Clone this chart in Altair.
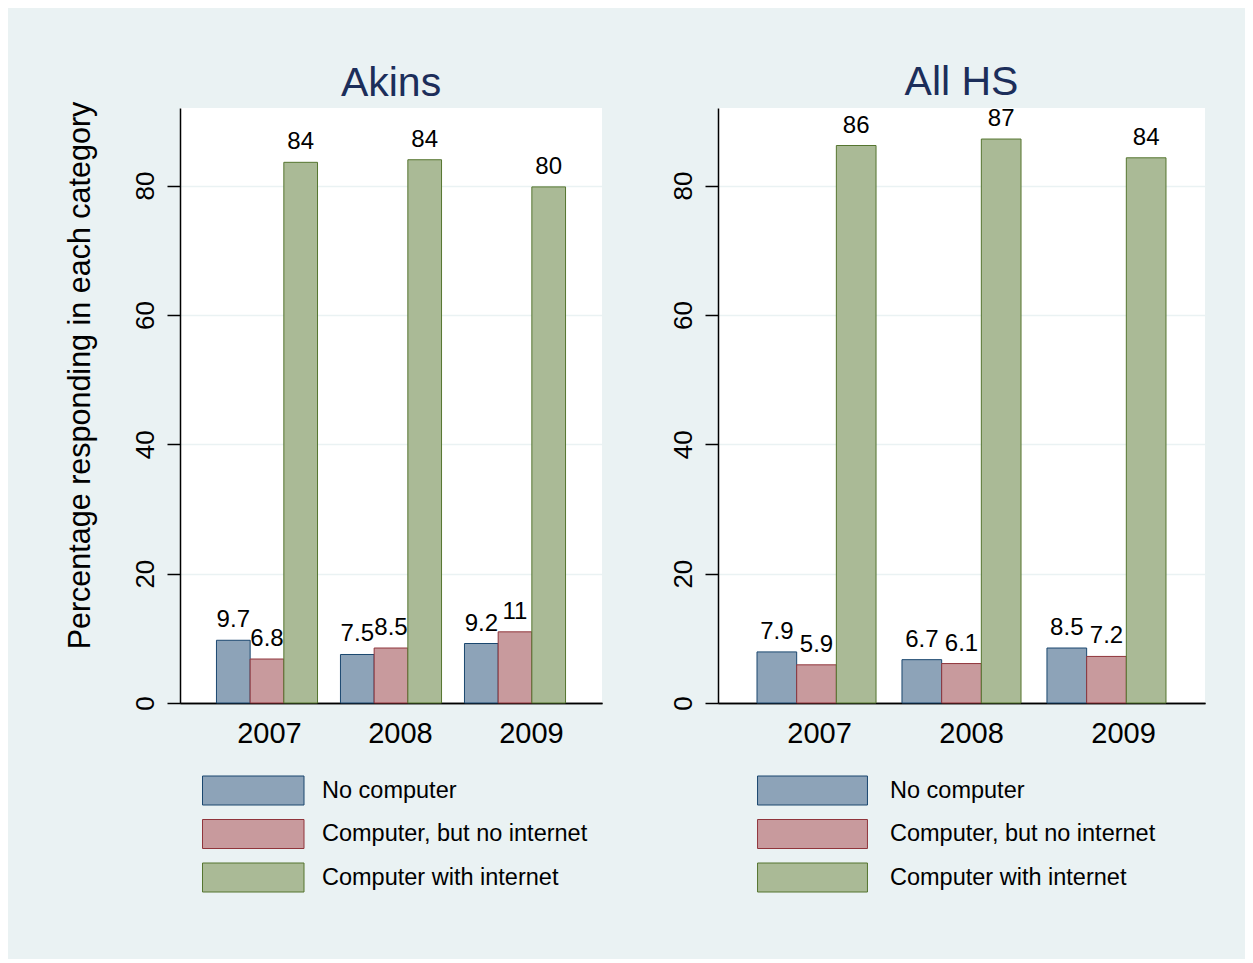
import altair as alt
import pandas as pd

years = ["2007", "2008", "2009"]
series = ["No computer", "Computer, but no internet", "Computer with internet"]

akins_no_computer = [9.7, 7.5, 9.2]
akins_no_internet = [6.8, 8.5, 11.0]
akins_internet = [83.6, 84.0, 79.8]

allhs_no_computer = [7.9, 6.7, 8.5]
allhs_no_internet = [5.9, 6.1, 7.2]
allhs_internet = [86.2, 87.2, 84.3]

y_ticks = [0, 20, 40, 60, 80]
fill_colors = ["#8DA3B8", "#C89A9D", "#AABA96"]
stroke_colors = ["#1A476F", "#90353B", "#55752F"]

FONT = "Liberation Sans"
BG = "#EAF2F3"


def long_table(a, b, c):
    rows = []
    for s, vals in zip(series, [a, b, c]):
        for yr, v in zip(years, vals):
            rows.append({"year": yr, "series": s, "value": v})
    return pd.DataFrame(rows)


def panel(df, title, width, pad_in, pad_out, ytitle, legend_x, symbol_path, label_offset,
          lab_pad, lab_align, title_offset):
    leg = alt.Legend(
        title=None, orient="none", legendX=legend_x, legendY=667.5, direction="vertical",
        symbolType=symbol_path, symbolSize=841, symbolStrokeWidth=1, symbolOpacity=1,
        labelFontSize=23.5, labelFont=FONT, labelColor="black", labelOffset=label_offset,
        rowPadding=9.5, padding=0, labelLimit=0,
    )
    yaxis_kw = dict(
        values=y_ticks, labelAngle=-90, labelAlign="center", labelBaseline="bottom",
        labelFontSize=26, labelFont=FONT, labelColor="black", labelPadding=9,
        tickSize=13, tickColor="black", tickWidth=1.5,
        domainColor="black", domainWidth=1.5,
        grid=True, gridColor=BG, gridWidth=1.5,
        titleFontSize=30.5, titleFont=FONT, titleFontWeight="normal", titleColor="black",
        titlePadding=37, titleY=267,
    )
    yaxis = alt.Axis(title=ytitle, **yaxis_kw) if ytitle else alt.Axis(title=None, **yaxis_kw)
    base = alt.Chart(df).encode(
        x=alt.X("year:N", sort=years,
                scale=alt.Scale(paddingInner=pad_in, paddingOuter=pad_out),
                axis=alt.Axis(title=None, labels=False, ticks=False, domainColor="black",
                              domainWidth=1.5, grid=False, orient="bottom")),
        xOffset=alt.XOffset("series:N", sort=series,
                            scale=alt.Scale(paddingInner=0, paddingOuter=0)),
        y=alt.Y("value:Q", scale=alt.Scale(domain=[0, 92], nice=False, zero=True), axis=yaxis),
    )
    bars = base.mark_bar(strokeWidth=1, opacity=1).encode(
        fill=alt.Fill("series:N", sort=series,
                      scale=alt.Scale(domain=series, range=fill_colors), legend=leg),
        stroke=alt.Stroke("series:N", sort=series,
                          scale=alt.Scale(domain=series, range=stroke_colors), legend=leg),
    )
    labels = base.mark_text(baseline="alphabetic", dy=-13, fontSize=24, font=FONT,
                            color="black").encode(
        text=alt.Text("value:Q", format=".2r")
    )
    year_axis = alt.Chart(pd.DataFrame({"year": years})).mark_point(opacity=0, size=0).encode(
        x=alt.X("year:N", sort=years,
                scale=alt.Scale(type="point", padding=lab_pad, align=lab_align),
                axis=alt.Axis(title=None, labelAngle=0, ticks=False, domain=False,
                              labelFontSize=29, labelFont=FONT, labelColor="black",
                              labelPadding=16, grid=False, orient="bottom")),
        y=alt.value(300),
    )
    return alt.layer(bars, labels, year_axis).resolve_scale(x="independent").properties(
        width=width, height=595,
        title=alt.TitleParams(title, fontSize=41, font=FONT, color="#1C2E5A",
                              fontWeight="normal", offset=title_offset, anchor="middle",
                              frame="group"),
    )


left = panel(long_table(akins_no_computer, akins_no_internet, akins_internet),
             "Akins", 422, 0.185, 0.294, "Percentage responding in each category",
             58.25, "M-3.5,-1H3.5V1H-3.5Z", 53.75, 0.611, 0.556, -4)
right = panel(long_table(allhs_no_computer, allhs_no_internet, allhs_internet),
              "All HS", 487, 0.179, 0.269, None,
              79.5, "M-3.79,-1H3.79V1H-3.79Z", 62.5, 0.602, 0.552, 3)

chart = alt.hconcat(left, right, spacing=68).resolve_scale(
    fill="independent", stroke="independent", y="independent", x="independent",
    xOffset="independent"
).resolve_legend(fill="independent", stroke="independent").properties(
    background=BG,
    padding={"left": 56, "top": 54, "right": 40, "bottom": 64},
).configure(font=FONT).configure_view(strokeWidth=0, fill="white")

chart.save("out.html", embed_options={"renderer": "svg", "actions": False})
